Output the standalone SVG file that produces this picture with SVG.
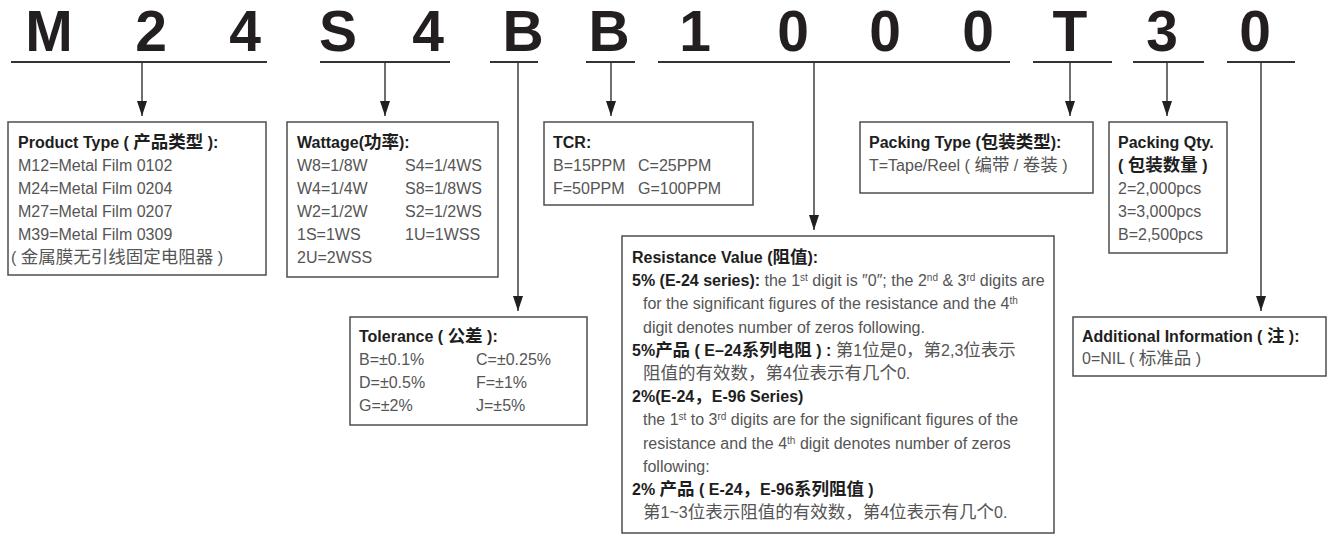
<svg xmlns="http://www.w3.org/2000/svg" width="1328" height="536" viewBox="0 0 1328 536">
<defs>
<style>
.t{font-family:"Liberation Sans","Noto Sans CJK SC",sans-serif;font-size:16px;fill:#555}
.b{font-weight:bold;fill:#1e1e1e}
.c{font-size:17.5px}
.s{font-size:10px}
.big{font-family:"Liberation Sans",sans-serif;font-weight:bold;font-size:57px;fill:#231f20;text-anchor:middle}
.box{fill:#fff;stroke:#4d4d4d;stroke-width:1.5}
.ul{stroke:#333;stroke-width:2.2}
.ar{stroke:#231f20;stroke-width:1.3;fill:none;marker-end:url(#ah)}
</style>
<marker id="ah" viewBox="0 0 15 10" refX="15" refY="5" markerWidth="15" markerHeight="10" markerUnits="userSpaceOnUse" orient="auto">
<path d="M0,0 L15,5 L0,10 z" fill="#231f20"/>
</marker>
</defs>
<rect width="1328" height="536" fill="#fff"/>
<g id="code">
<text class="big" x="49" y="51">M</text>
<text class="big" x="151" y="51">2</text>
<text class="big" x="245" y="51">4</text>
<text class="big" x="338" y="51">S</text>
<text class="big" x="428" y="51">4</text>
<text class="big" x="523" y="51">B</text>
<text class="big" x="609" y="51">B</text>
<text class="big" x="695" y="51">1</text>
<text class="big" x="793" y="51">0</text>
<text class="big" x="885" y="51">0</text>
<text class="big" x="978" y="51">0</text>
<text class="big" x="1070" y="51">T</text>
<text class="big" x="1162" y="51">3</text>
<text class="big" x="1255" y="51">0</text>
</g>
<g id="connectors">
<line class="ul" x1="11" y1="62" x2="267" y2="62"/>
<line class="ul" x1="320" y1="62" x2="450" y2="62"/>
<line class="ul" x1="490" y1="62" x2="538" y2="62"/>
<line class="ul" x1="586" y1="62" x2="635" y2="62"/>
<line class="ul" x1="658" y1="62" x2="1010" y2="62"/>
<line class="ul" x1="1033" y1="62" x2="1112" y2="62"/>
<line class="ul" x1="1133" y1="62" x2="1204" y2="62"/>
<line class="ul" x1="1227" y1="62" x2="1295" y2="62"/>
<line class="ar" x1="142" y1="63" x2="142" y2="116"/>
<line class="ar" x1="385" y1="63" x2="385" y2="116"/>
<line class="ar" x1="518" y1="63" x2="518" y2="311"/>
<line class="ar" x1="611" y1="63" x2="611" y2="116"/>
<line class="ar" x1="814" y1="63" x2="814" y2="230"/>
<line class="ar" x1="1070" y1="63" x2="1070" y2="116"/>
<line class="ar" x1="1167" y1="63" x2="1167" y2="116"/>
<line class="ar" x1="1261" y1="63" x2="1261" y2="311"/>
</g>
<g id="product-type">
<rect class="box" x="8" y="122" width="258" height="153"/>
<text class="t b" x="18" y="148">Product Type ( <tspan class="c">产品类型</tspan> ):</text>
<text class="t" x="18" y="171">M12=Metal Film 0102</text>
<text class="t" x="18" y="194">M24=Metal Film 0204</text>
<text class="t" x="18" y="217">M27=Metal Film 0207</text>
<text class="t" x="18" y="240">M39=Metal Film 0309</text>
<text class="t" x="11" y="263">( <tspan class="c">金属膜无引线固定电阻器</tspan> )</text>
</g>
<g id="wattage">
<rect class="box" x="287" y="122" width="211" height="155"/>
<text class="t b" x="297" y="148">Wattage(<tspan class="c">功率</tspan>):</text>
<text class="t" x="297" y="171">W8=1/8W</text><text class="t" x="405" y="171">S4=1/4WS</text>
<text class="t" x="297" y="194">W4=1/4W</text><text class="t" x="405" y="194">S8=1/8WS</text>
<text class="t" x="297" y="217">W2=1/2W</text><text class="t" x="405" y="217">S2=1/2WS</text>
<text class="t" x="297" y="240">1S=1WS</text><text class="t" x="405" y="240">1U=1WSS</text>
<text class="t" x="297" y="263">2U=2WSS</text>
</g>
<g id="tcr">
<rect class="box" x="544" y="122" width="209" height="83"/>
<text class="t b" x="553" y="148">TCR:</text>
<text class="t" x="553" y="171">B=15PPM</text><text class="t" x="638" y="171">C=25PPM</text>
<text class="t" x="553" y="194">F=50PPM</text><text class="t" x="638" y="194">G=100PPM</text>
</g>
<g id="tolerance">
<rect class="box" x="350" y="317" width="237" height="108"/>
<text class="t b" x="359" y="342">Tolerance ( <tspan class="c">公差</tspan> ):</text>
<text class="t" x="359" y="365">B=±0.1%</text><text class="t" x="476" y="365">C=±0.25%</text>
<text class="t" x="359" y="388">D=±0.5%</text><text class="t" x="476" y="388">F=±1%</text>
<text class="t" x="359" y="411">G=±2%</text><text class="t" x="476" y="411">J=±5%</text>
</g>
<g id="resistance-value">
<rect class="box" x="622" y="236" width="432" height="297"/>
<text class="t b" x="632" y="263">Resistance Value (<tspan class="c">阻值</tspan>):</text>
<text class="t" x="632" y="286"><tspan class="b">5% (E-24 series):</tspan> the 1<tspan class="s" baseline-shift="super">st</tspan> digit is ″0″; the 2<tspan class="s" baseline-shift="super">nd</tspan> &amp; 3<tspan class="s" baseline-shift="super">rd</tspan> digits are</text>
<text class="t" x="643" y="309">for the significant figures of the resistance and the 4<tspan class="s" baseline-shift="super">th</tspan></text>
<text class="t" x="643" y="333">digit denotes number of zeros following.</text>
<text class="t" x="632" y="356"><tspan class="b">5%<tspan class="c">产品</tspan> ( E–24<tspan class="c">系列电阻</tspan> ) :</tspan> <tspan class="c">第</tspan>1<tspan class="c">位是</tspan>0<tspan class="c">，第</tspan>2,3<tspan class="c">位表示</tspan></text>
<text class="t" x="643" y="379"><tspan class="c">阻值的有效数，第</tspan>4<tspan class="c">位表示有几个</tspan>0.</text>
<text class="t b" x="632" y="402">2%(E-24<tspan class="c">，</tspan>E-96 Series)</text>
<text class="t" x="643" y="425">the 1<tspan class="s" baseline-shift="super">st</tspan> to 3<tspan class="s" baseline-shift="super">rd</tspan> digits are for the significant figures of the</text>
<text class="t" x="643" y="449">resistance and the 4<tspan class="s" baseline-shift="super">th</tspan> digit denotes number of zeros</text>
<text class="t" x="643" y="472">following:</text>
<text class="t b" x="632" y="495">2% <tspan class="c">产品</tspan> ( E-24<tspan class="c">，</tspan>E-96<tspan class="c">系列阻值</tspan> )</text>
<text class="t" x="643" y="518"><tspan class="c">第</tspan>1~3<tspan class="c">位表示阻值的有效数，第</tspan>4<tspan class="c">位表示有几个</tspan>0.</text>
</g>
<g id="packing-type">
<rect class="box" x="860" y="122" width="233" height="71"/>
<text class="t b" x="869" y="148">Packing Type (<tspan class="c">包装类型</tspan>):</text>
<text class="t" x="869" y="171">T=Tape/Reel ( <tspan class="c">编带</tspan> / <tspan class="c">卷装</tspan> )</text>
</g>
<g id="packing-qty">
<rect class="box" x="1109" y="122" width="118" height="131"/>
<text class="t b" x="1118" y="148">Packing Qty.</text>
<text class="t b" x="1118" y="171">( <tspan class="c">包装数量</tspan> )</text>
<text class="t" x="1118" y="194">2=2,000pcs</text>
<text class="t" x="1118" y="217">3=3,000pcs</text>
<text class="t" x="1118" y="240">B=2,500pcs</text>
</g>
<g id="additional-info">
<rect class="box" x="1073" y="317" width="253" height="59"/>
<text class="t b" x="1082" y="342">Additional Information ( <tspan class="c">注</tspan> ):</text>
<text class="t" x="1082" y="364">0=NIL ( <tspan class="c">标准品</tspan> )</text>
</g>
</svg>
